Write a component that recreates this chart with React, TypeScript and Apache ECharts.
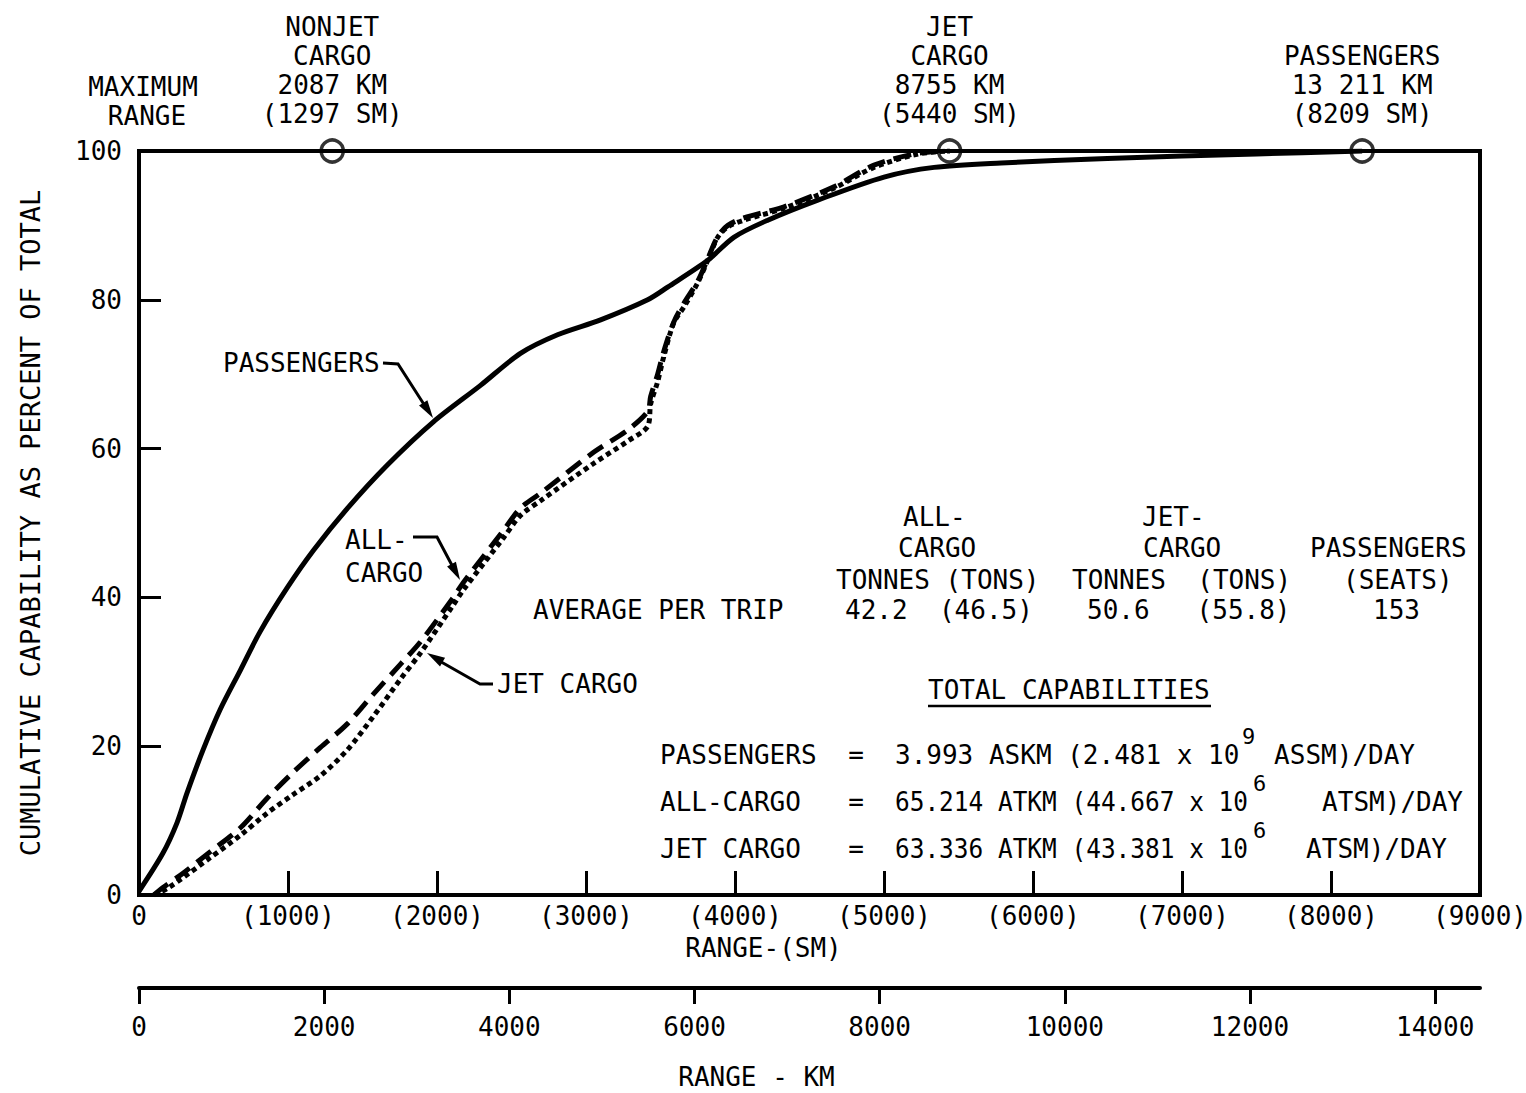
import React, { useEffect, useRef } from "react";
import * as echarts from "echarts";

const FONT = '"DejaVu Sans Mono", "Liberation Mono", monospace';
const KM_PER_SM = 1.609344;

// Cumulative capability (%) against range in statute miles
const passengerSm = [0, 160, 255, 322, 430, 544, 680, 813, 995, 1170, 1400, 1667, 1976, 2292, 2560, 2809, 3098, 3414, 3548, 3817, 3992, 4220, 4556, 5000, 5336, 5786, 6500, 7500, 8209];
const passengerPct = [0.5, 5.6, 9.7, 13.7, 19.5, 24.9, 30.2, 35.4, 41.3, 46.3, 52.0, 57.8, 63.6, 68.5, 72.8, 75.3, 77.3, 80, 81.7, 85.3, 88.4, 90.7, 93.4, 96.5, 97.8, 98.4, 99, 99.6, 100];

const allCargoSm = [100, 161, 300, 477, 679, 860, 1035, 1216, 1398, 1573, 1754, 1888, 2110, 2177, 2446, 2560, 2695, 3051, 3280, 3414, 3434, 3481, 3521, 3589, 3656, 3750, 3817, 3884, 3952, 4059, 4328, 4664, 4933, 5228, 5440];
const allCargoPct = [0, 1, 3, 5.8, 9, 13, 16.5, 19.8, 23, 27, 31, 34, 40, 42, 49, 52, 54, 59.5, 62.5, 65, 67, 70, 73, 77, 79.5, 82.5, 85.5, 88.5, 90, 91, 92.5, 95.2, 98.1, 99.7, 100];

const jetCargoSm = [100, 200, 477, 679, 860, 1035, 1216, 1398, 1573, 1754, 1888, 2110, 2177, 2446, 2560, 2695, 3051, 3280, 3414, 3434, 3481, 3521, 3589, 3656, 3750, 3817, 3884, 3952, 4059, 4328, 4664, 4933, 5228, 5440];
const jetCargoPct = [0, 1, 5, 8, 11, 13.5, 16, 19.5, 24, 29, 32.5, 39, 41, 48, 51, 53, 58, 61, 63, 66, 69, 72.3, 76.9, 79, 82.3, 85.3, 88.4, 89.8, 90.7, 92.3, 95, 97.8, 99.6, 100];

// Maximum range of each fleet
const maxRangeSm = [1297, 5440, 8209];
const maxRangeLabels = [
  "NONJET\nCARGO\n2087 KM\n(1297 SM)",
  "JET\nCARGO\n8755 KM\n(5440 SM)",
  "PASSENGERS\n13 211 KM\n(8209 SM)",
];

const smTicks = [0, 1000, 2000, 3000, 4000, 5000, 6000, 7000, 8000, 9000];
const kmTicks = [0, 2000, 4000, 6000, 8000, 10000, 12000, 14000];
const pctTicks = [0, 20, 40, 60, 80, 100];

const zip = (xs: number[], ys: number[]) => xs.map((x, i) => [x, ys[i]]);

const txt = (x: number, y: number, text: string, align = "left", size = 26, scaleX = 1) => ({
  type: "text",
  x,
  y,
  z: 10,
  scaleX,
  style: {
    text,
    fill: "#000",
    font: `${size}px ${FONT}`,
    align,
    verticalAlign: "middle",
    textAlign: align,
    textVerticalAlign: "middle",
  },
});

const leader = (pts: number[][]) => ({
  type: "polyline",
  z: 10,
  shape: { points: pts },
  style: { stroke: "#000", lineWidth: 3, fill: null },
});

const arrowHead = (from: number[], tip: number[]) => {
  const dx = tip[0] - from[0];
  const dy = tip[1] - from[1];
  const len = Math.hypot(dx, dy);
  const ux = dx / len;
  const uy = dy / len;
  const bx = tip[0] - 18 * ux;
  const by = tip[1] - 18 * uy;
  const px = -uy * 5;
  const py = ux * 5;
  return {
    type: "polygon",
    z: 10,
    shape: { points: [tip, [bx + px, by + py], [bx - px, by - py]] },
    style: { fill: "#000" },
  };
};

const axisText = { fontSize: 26, fontFamily: FONT, color: "#000" };

export default function App() {
  const ref = useRef<HTMLDivElement>(null);

  useEffect(() => {
    if (!ref.current) return;
    const chart = echarts.init(ref.current, undefined, { renderer: "svg" });

    const option: any = {
      animation: false,
      backgroundColor: "#fff",
      textStyle: { fontFamily: FONT, color: "#000" },
      grid: {
        left: 139,
        right: 46,
        top: 151,
        bottom: 198,
        show: true,
        borderColor: "#000",
        borderWidth: 4,
        containLabel: false,
        outerBoundsMode: "none",
      },
      xAxis: [
        {
          type: "value",
          min: smTicks[0],
          max: smTicks[smTicks.length - 1],
          interval: 1000,
          position: "bottom",
          axisLine: { show: true, lineStyle: { color: "#000", width: 4 } },
          axisTick: { show: true, inside: true, length: 24, lineStyle: { color: "#000", width: 3 } },
          axisLabel: {
            ...axisText,
            margin: 8,
            formatter: (v: number) => (v === 0 ? "0" : `(${v})`),
          },
          splitLine: { show: false },
          name: "RANGE-(SM)",
          nameLocation: "middle",
          nameGap: 40,
          nameTextStyle: { ...axisText, padding: [0, 92, 0, 0] },
        },
        {
          type: "value",
          min: 0,
          max: smTicks[smTicks.length - 1] * KM_PER_SM,
          position: "bottom",
          offset: 93,
          axisLine: { show: true, onZero: false, lineStyle: { color: "#000", width: 4 } },
          axisTick: {
            show: true,
            inside: false,
            length: 16,
            customValues: kmTicks,
            lineStyle: { color: "#000", width: 3 },
          },
          axisLabel: {
            ...axisText,
            margin: 26,
            customValues: kmTicks,
            formatter: (v: number) => String(Math.round(v)),
          },
          splitLine: { show: false },
          name: "RANGE - KM",
          nameLocation: "middle",
          nameGap: 76,
          nameTextStyle: { ...axisText, padding: [0, 106, 0, 0] },
        },
      ],
      yAxis: {
        type: "value",
        min: pctTicks[0],
        max: pctTicks[pctTicks.length - 1],
        interval: 20,
        axisLine: { show: true, lineStyle: { color: "#000", width: 4 } },
        axisTick: { show: true, inside: true, length: 22, lineStyle: { color: "#000", width: 3 } },
        axisLabel: { ...axisText, margin: 17 },
        splitLine: { show: false },
        name: "CUMULATIVE CAPABILITY AS PERCENT OF TOTAL",
        nameLocation: "middle",
        nameGap: 95,
        nameRotate: 90,
        nameTextStyle: { ...axisText, fontSize: 27 },
      },
      series: [
        {
          name: "PASSENGERS",
          type: "line",
          data: zip(passengerSm, passengerPct),
          showSymbol: false,
          smooth: 0.3,
          lineStyle: { color: "#000", width: 5 },
        },
        {
          name: "ALL-CARGO",
          type: "line",
          data: zip(allCargoSm, allCargoPct),
          showSymbol: false,
          smooth: 0.3,
          lineStyle: { color: "#000", width: 5, type: [18, 9] },
        },
        {
          name: "JET CARGO",
          type: "line",
          data: zip(jetCargoSm, jetCargoPct),
          showSymbol: false,
          smooth: 0.3,
          lineStyle: { color: "#000", width: 5, type: [5, 4] },
        },
        {
          name: "MAXIMUM RANGE",
          type: "scatter",
          clip: false,
          z: 5,
          data: maxRangeSm.map((x) => [x, 100]),
          symbol: "circle",
          symbolSize: 22,
          itemStyle: { color: "rgba(255,255,255,0)", borderColor: "#000", borderWidth: 3.5 },
          label: {
            show: true,
            position: "top",
            distance: 10,
            align: "center",
            lineHeight: 29,
            fontSize: 26,
            fontFamily: FONT,
            color: "#000",
            opacity: 1,
            textBorderWidth: 0,
            formatter: (p: any) => maxRangeLabels[p.dataIndex],
          },
        },
      ],
      graphic: [
        txt(143, 87, "MAXIMUM", "center"),
        txt(147, 116, "RANGE", "center"),

        // curve callouts
        txt(223, 363, "PASSENGERS"),
        leader([[383, 363], [398, 364], [425, 406]]),
        arrowHead([398, 364], [433, 418]),

        txt(345, 540, "ALL-"),
        txt(345, 573, "CARGO"),
        leader([[413, 537], [437, 537], [455, 571]]),
        arrowHead([437, 537], [460, 580]),

        txt(497, 684, "JET CARGO"),
        leader([[493, 684], [480, 684], [436, 659]]),
        arrowHead([480, 684], [427, 653]),

        // average per trip table
        txt(903, 517, "ALL-"),
        txt(898, 548, "CARGO"),
        txt(836, 580, "TONNES (TONS)"),
        txt(1142, 517, "JET-"),
        txt(1143, 548, "CARGO"),
        txt(1072, 580, "TONNES  (TONS)"),
        txt(1310, 548, "PASSENGERS"),
        txt(1343, 580, "(SEATS)"),
        txt(533, 610, "AVERAGE PER TRIP"),
        txt(845, 610, "42.2  (46.5)"),
        txt(1087, 610, "50.6   (55.8)"),
        txt(1373, 610, "153"),

        // total capabilities
        txt(928, 690, "TOTAL CAPABILITIES"),
        {
          type: "line",
          z: 10,
          shape: { x1: 928, y1: 706, x2: 1211, y2: 706 },
          style: { stroke: "#000", lineWidth: 2.5 },
        },
        txt(660, 755, "PASSENGERS"),
        txt(856, 755, "=", "center"),
        txt(895, 755, "3.993 ASKM (2.481 x 10"),
        txt(1242, 736, "9", "left", 22),
        txt(1415, 755, "ASSM)/DAY", "right"),
        txt(660, 802, "ALL-CARGO"),
        txt(856, 802, "=", "center"),
        txt(895, 802, "65.214 ATKM (44.667 x 10", "left", 26, 0.94),
        txt(1253, 783, "6", "left", 22),
        txt(1463, 802, "ATSM)/DAY", "right"),
        txt(660, 849, "JET CARGO"),
        txt(856, 849, "=", "center"),
        txt(895, 849, "63.336 ATKM (43.381 x 10", "left", 26, 0.94),
        txt(1253, 830, "6", "left", 22),
        txt(1447, 849, "ATSM)/DAY", "right"),
      ],
    };

    chart.setOption(option);
    return () => chart.dispose();
  }, []);

  return (
    <div
      ref={ref}
      style={{ position: "fixed", left: 0, top: 0, width: 1526, height: 1093, background: "#fff" }}
    />
  );
}
